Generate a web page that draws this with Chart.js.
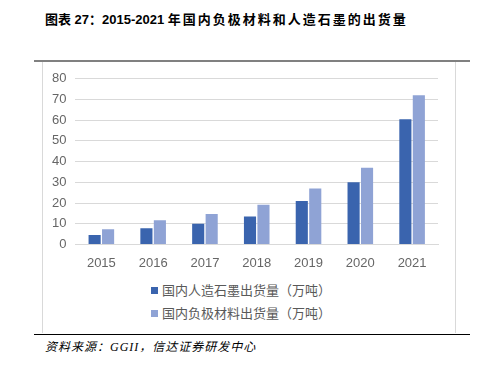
<!DOCTYPE html>
<html>
<head>
<meta charset="utf-8">
<script src="https://cdn.jsdelivr.net/npm/chart.js@4"></script>
<style>
  body { margin: 0; width: 477px; height: 366px; background: #fff; position: relative; overflow: hidden; font-family: "Liberation Sans", "Noto Sans CJK SC", sans-serif; }
  #title { position: absolute; left: 45px; top: 9px; font-size: 13px; font-weight: bold; color: #000; font-family: "Liberation Sans", "Noto Sans CJK SC", sans-serif; }
  #title .cjk { letter-spacing: 2px; }
  #topline { position: absolute; left: 34px; top: 60px; width: 436px; height: 2px; background: #808080; }
  #box { position: absolute; left: 42px; top: 62px; width: 412px; height: 271px; border-left: 1px solid #d9d9d9; border-right: 1px solid #d9d9d9; }
  #bottomline { position: absolute; left: 34px; top: 334px; width: 436px; height: 1px; background: #000; }
  #wrap { position: absolute; left: 43px; top: 62px; width: 412px; height: 212px; }
  #legend { position: absolute; left: 151px; top: 281px; font-size: 13px; color: #595959; font-family: "Noto Sans CJK SC", sans-serif; }
  .item { height: 23px; line-height: 18px; }
  .sw { display: inline-block; width: 7px; height: 7px; margin-right: 4px; vertical-align: 1px; }
  #source { position: absolute; left: 45px; top: 337px; font-size: 12px; font-style: italic; color: #000; font-family: "Liberation Serif", "Noto Sans CJK SC", serif; letter-spacing: 1px; }
</style>
</head>
<body>
<div id="title">图表 27：2015-2021 <span class="cjk">年国内负极材料和人造石墨的出货量</span></div>
<div id="topline"></div>
<div id="box"></div>
<div id="wrap"><canvas id="chart"></canvas></div>
<div id="legend"></div>
<div id="bottomline"></div>
<div id="source">资料来源：GGII，信达证券研发中心</div>
<script>
// categories and series
const years = ['2015', '2016', '2017', '2018', '2019', '2020', '2021'];
const graphite = [4.5, 7.8, 10, 13.5, 21, 30, 60.5];
const anode = [7.3, 11.7, 14.7, 19.2, 27, 37, 72];
const seriesNames = ['国内人造石墨出货量（万吨）', '国内负极材料出货量（万吨）'];
const seriesColors = ['#3a64ae', '#8fa3d5'];

const ctx = document.getElementById('chart').getContext('2d');
const chart = new Chart(ctx, {
    type: 'bar',
    data: {
        labels: years,
        datasets: [{
            label: seriesNames[0],
            data: graphite,
            backgroundColor: seriesColors[0]
        }, {
            label: seriesNames[1],
            data: anode,
            backgroundColor: seriesColors[1]
        }]
    },
    options: {
        responsive: true,
        maintainAspectRatio: false,
        animation: false,
        layout: { padding: { top: 6, right: 17, left: 0, bottom: 0 } },
        plugins: {
            legend: { display: false },
            tooltip: { enabled: false }
        },
        datasets: {
            bar: { categoryPercentage: 0.52, barPercentage: 0.9 }
        },
        scales: {
            x: {
                grid: { display: false },
                border: { color: '#d9d9d9' },
                ticks: { color: '#666666', font: { size: 13, family: 'Liberation Sans' }, padding: 3 }
            },
            y: {
                min: 0,
                max: 80,
                ticks: { stepSize: 10, color: '#666666', font: { size: 13, family: 'Liberation Sans' }, padding: 9 },
                grid: { color: '#d9d9d9', drawTicks: false },
                border: { display: false }
            }
        }
    }
});

// legend as stacked list, built from the datasets
document.getElementById('legend').innerHTML = chart.data.datasets.map(ds => `
    <div class="item"><span class="sw" style="background:${ds.backgroundColor}"></span>${ds.label}</div>
`).join('');
</script>
</body>
</html>
